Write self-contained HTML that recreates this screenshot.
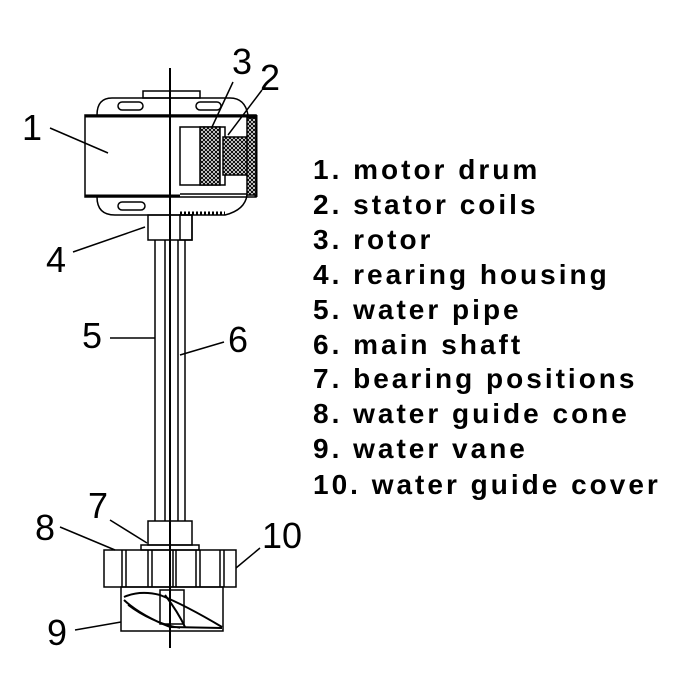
<!DOCTYPE html>
<html><head><meta charset="utf-8"><style>
html,body{margin:0;padding:0;background:#fff;}
.lg{position:absolute;left:313px;font-family:"Liberation Sans",sans-serif;font-weight:bold;font-size:28px;letter-spacing:3px;color:#000;line-height:30px;white-space:nowrap;}
</style></head><body>
<div style="position:relative;width:700px;height:700px;overflow:hidden;">
<svg width="700" height="700" viewBox="0 0 700 700" style="position:absolute;left:0;top:0">
<defs>
<pattern id="h" width="4" height="4" patternUnits="userSpaceOnUse">
<rect width="4" height="4" fill="#fff"/><path d="M0,4 L4,0 M0,0 L4,4" stroke="#000" stroke-width="1"/>
</pattern>
</defs>
<g fill="none" stroke="#000" stroke-width="1.5">
<path d="M97,115 Q97,98 112,98 L230,98 Q245,98 248,115"/>
<rect x="143" y="91" width="57" height="7"/>
<rect x="118" y="102" width="25" height="8" rx="4"/>
<rect x="196" y="102" width="25" height="8" rx="4"/>
<rect x="85" y="115" width="171" height="82" stroke-width="1.5"/>
<line x1="85" y1="116" x2="256" y2="116" stroke-width="3"/>
<line x1="85" y1="196" x2="180" y2="196" stroke-width="3"/>
<line x1="256" y1="115" x2="256" y2="197" stroke-width="3"/>
<rect x="180" y="127" width="45" height="58"/>
<rect x="200" y="127" width="20" height="58" fill="url(#h)"/>
<rect x="223" y="137" width="25" height="38" fill="url(#h)"/>
<rect x="247" y="118" width="9" height="77" fill="url(#h)"/>
<line x1="180" y1="194" x2="247" y2="194"/>
<path d="M97,197 Q97,215 115,215 L225,215 Q245,210 247,195"/>
<rect x="118" y="202" width="27" height="8" rx="4"/>
<line x1="180" y1="213" x2="225" y2="213" stroke-dasharray="2,2" stroke-width="3"/>
<rect x="148" y="215" width="44" height="25"/>
<rect x="180" y="215" width="12" height="25"/>
<line x1="155" y1="240" x2="155" y2="521"/>
<line x1="178" y1="240" x2="178" y2="521"/>
<line x1="185" y1="240" x2="185" y2="521"/>
<line x1="165" y1="240" x2="165" y2="521"/>
<line x1="170" y1="68" x2="170" y2="648" stroke-width="2"/>
<rect x="148" y="521" width="44" height="24"/>
<rect x="141" y="545" width="58" height="5"/>
<rect x="104" y="550" width="132" height="37"/>
<path d="M122,550V587M126,550V587M148,550V587M152,550V587M173,550V587M176,550V587M196,550V587M200,550V587M220,550V587M224,550V587"/>
<rect x="121" y="587" width="102" height="44"/>
<rect x="160" y="590" width="24" height="34"/>
<path d="M124,597 Q140,590 160,595 Q185,605 222,627" stroke-width="2"/>
<path d="M124,600 Q140,615 170,627 L222,628" stroke-width="2"/>
<path d="M128,605 Q150,622 180,628" stroke-width="1.5"/>
<path d="M165,595 Q178,612 185,627" stroke-width="2"/>
<line x1="50" y1="128" x2="108" y2="153"/>
<line x1="233" y1="82" x2="212" y2="127"/>
<line x1="262" y1="90" x2="228" y2="135"/>
<line x1="73" y1="252" x2="145" y2="227"/>
<line x1="110" y1="338" x2="155" y2="338"/>
<line x1="180" y1="355" x2="224" y2="342"/>
<line x1="110" y1="520" x2="147" y2="543"/>
<line x1="60" y1="527" x2="115" y2="550"/>
<line x1="260" y1="548" x2="236" y2="568"/>
<line x1="75" y1="630" x2="121" y2="622"/>
</g>
<g font-family="Liberation Sans,sans-serif" font-size="36" fill="#000">
<text x="22" y="140">1</text>
<text x="232" y="74">3</text>
<text x="260" y="90">2</text>
<text x="46" y="272">4</text>
<text x="82" y="348">5</text>
<text x="228" y="352">6</text>
<text x="88" y="518">7</text>
<text x="35" y="540">8</text>
<text x="262" y="548">10</text>
<text x="47" y="645">9</text>
</g>
</svg>
<div class="lg" style="top:155px">1. motor drum</div>
<div class="lg" style="top:190px">2. stator coils</div>
<div class="lg" style="top:225px">3. rotor</div>
<div class="lg" style="top:260px">4. rearing housing</div>
<div class="lg" style="top:295px">5. water pipe</div>
<div class="lg" style="top:330px">6. main shaft</div>
<div class="lg" style="top:364px">7. bearing positions</div>
<div class="lg" style="top:399px">8. water guide cone</div>
<div class="lg" style="top:434px">9. water vane</div>
<div class="lg" style="top:470px">10. water guide cover</div>
</div>
</body></html>
